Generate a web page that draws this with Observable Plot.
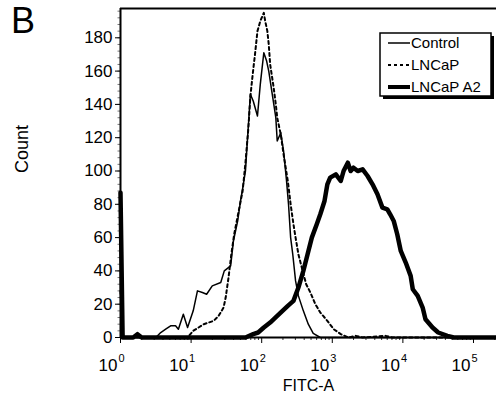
<!DOCTYPE html>
<html><head><meta charset="utf-8">
<script src="https://cdn.jsdelivr.net/npm/d3@7"></script>
<script src="https://cdn.jsdelivr.net/npm/@observablehq/plot@0.6"></script>
<style>body{margin:0;background:#fff} #chart{width:496px;height:399px}</style>
</head><body><div id="chart"></div>
<script>
// log10(FITC-A) positions and counts
const controlLog = [0.00,0.04,0.50,0.57,0.64,0.71,0.78,0.82,0.89,0.95,1.03,1.09,1.16,1.22,1.30,1.42,1.47,1.56,1.60,1.66,1.70,1.74,1.77,1.80,1.84,1.88,1.94,1.98,2.03,2.07,2.10,2.15,2.20,2.22,2.27,2.31,2.35,2.38,2.41,2.44,2.48,2.52,2.59,2.66,2.73,2.83,5.33];
const controlCount = [57,0,0,3,5,7,7,5,14,6,16,28,27,26,31,33,40,43,58,70,82,92,100,120,146,142,133,152,171,166,160,146,132,118,123,112,95,80,60,50,34,25,16,8,2.5,0,0];
const lncapLog = [0.00,0.04,0.95,0.99,1.03,1.18,1.32,1.39,1.46,1.49,1.53,1.57,1.61,1.67,1.73,1.77,1.81,1.84,1.87,1.91,1.94,1.98,2.03,2.05,2.08,2.10,2.12,2.17,2.20,2.22,2.27,2.31,2.37,2.41,2.45,2.48,2.52,2.58,2.63,2.69,2.76,2.83,2.93,3.02,3.12,3.23,3.33,3.43,3.75,3.85,5.33];
const lncapCount = [28,0,0,2,4,8,10,13,18,24,36,50,62,75,88,105,125,145,157,172,184,190,195,190,184,176,164,150,140,132,122,110,94,80,68,60,50,40,32,27,20,15,10,5,2,0,1,0,1,0,0];
const a2Log = [0.00,0.03,0.18,0.24,0.30,1.77,1.88,1.95,2.03,2.12,2.22,2.37,2.45,2.52,2.59,2.65,2.71,2.78,2.83,2.89,2.93,2.97,3.05,3.12,3.16,3.22,3.26,3.30,3.36,3.43,3.50,3.57,3.64,3.71,3.78,3.82,3.87,3.92,3.97,4.04,4.11,4.14,4.21,4.28,4.32,4.42,4.50,4.63,4.72,5.33];
const a2Count = [87,0,0,2,0,0,2,3,6,9,13,19,22,30,40,50,60,68,74,82,92,96,98,94,100,105,100,102,100,101,97,92,86,78,77,74,70,62,52,45,37,29,25,18,11,6,3,1,0,0];

const seriesNames = ["Control", "LNCaP", "LNCaP A2"];
const yTicks = [0,20,40,60,80,100,120,140,160,180];
const xDecades = [1,10,100,1000,10000,100000];
const xExponents = ["0","1","2","3","4","5"];
const yMax = 197.6;
const xMax = Math.pow(10, 5.326);

const toRows = (logs, counts) => logs.map((l, i) => ({x: Math.pow(10, l), y: counts[i]}));
const control = toRows(controlLog, controlCount);
const lncap = toRows(lncapLog, lncapCount);
const a2 = toRows(a2Log, a2Count);

const minorX = [];
for (const d of xDecades) for (let m = 2; m <= 9; m++) if (d*m <= xMax) minorX.push(d*m);
const minorY = d3.range(0, yMax, 4);
const decadeRows = xDecades.map((d, i) => ({x: d, e: xExponents[i]}));

const font = "'Liberation Sans', Arial, sans-serif";

const chart = Plot.plot({
  width: 496, height: 399,
  marginLeft: 120, marginRight: 0, marginTop: 8, marginBottom: 62,
  style: {fontFamily: font, background: "#fff", color: "#000"},
  x: {type: "log", domain: [1, xMax]},
  y: {domain: [0, yMax]},
  marks: [
    Plot.axisY({ticks: minorY, tickSize: 2.5, text: null, label: null, stroke: "#777"}),
    Plot.axisY({ticks: yTicks, tickSize: 5, tickPadding: 3, fontSize: 17, label: null, tickFormat: d => String(d)}),
    Plot.axisX({ticks: minorX, tickSize: 3, text: null, label: null, stroke: "#333"}),
    Plot.axisX({ticks: xDecades, tickSize: 6, text: null, label: null}),
    Plot.text(decadeRows, {x: "x", y: 0, text: () => "10", dy: 28, dx: -3, textAnchor: "end", fontSize: 17}),
    Plot.text(decadeRows, {x: "x", y: 0, text: "e", dy: 21, dx: -2, textAnchor: "start", fontSize: 11}),
    Plot.text(["FITC-A"], {frameAnchor: "bottom", dy: 53, fontSize: 16}),
    Plot.text(["Count"], {frameAnchor: "left", rotate: -90, dx: -98, fontSize: 18}),
    Plot.line(control, {x: "x", y: "y", stroke: "#000", strokeWidth: 1.5}),
    Plot.line(lncap, {x: "x", y: "y", stroke: "#000", strokeWidth: 2, strokeDasharray: "3,3"}),
    Plot.line(a2, {x: "x", y: "y", stroke: "#000", strokeWidth: 4.5, strokeLinejoin: "round"}),
    Plot.ruleY([0], {stroke: "#000", strokeWidth: 2}),
    Plot.ruleX([1], {stroke: "#000", strokeWidth: 2}),
    Plot.ruleY([yMax], {stroke: "#000", strokeWidth: 2})
  ]
});
document.getElementById("chart").appendChild(chart);

// panel letter and legend
const svg = d3.select(chart);
svg.append("text").attr("x", 11).attr("y", 33).attr("font-size", 36).attr("font-family", font)
  .attr("text-anchor", "start").attr("fill", "#000").text("B");
const lg = svg.append("g").attr("transform", "translate(380,33)");
lg.append("rect").attr("x", 3).attr("y", 3).attr("width", 111).attr("height", 63).attr("fill", "#000");
lg.append("rect").attr("x", 0).attr("y", 0).attr("width", 111).attr("height", 63).attr("fill", "#fff").attr("stroke", "#000").attr("stroke-width", 1.5);
const styles = [{w: 1.5, dash: null}, {w: 2, dash: "3,3"}, {w: 4, dash: null}];
seriesNames.forEach((name, i) => {
  const y = 10 + i * 22;
  lg.append("line").attr("x1", 8).attr("x2", 30).attr("y1", y).attr("y2", y)
    .attr("stroke", "#000").attr("stroke-width", styles[i].w).attr("stroke-dasharray", styles[i].dash);
  lg.append("text").attr("x", 31).attr("y", y + 5).attr("font-size", 15).attr("font-family", font)
    .attr("text-anchor", "start").attr("fill", "#000").text(name);
});
</script>
</body></html>
